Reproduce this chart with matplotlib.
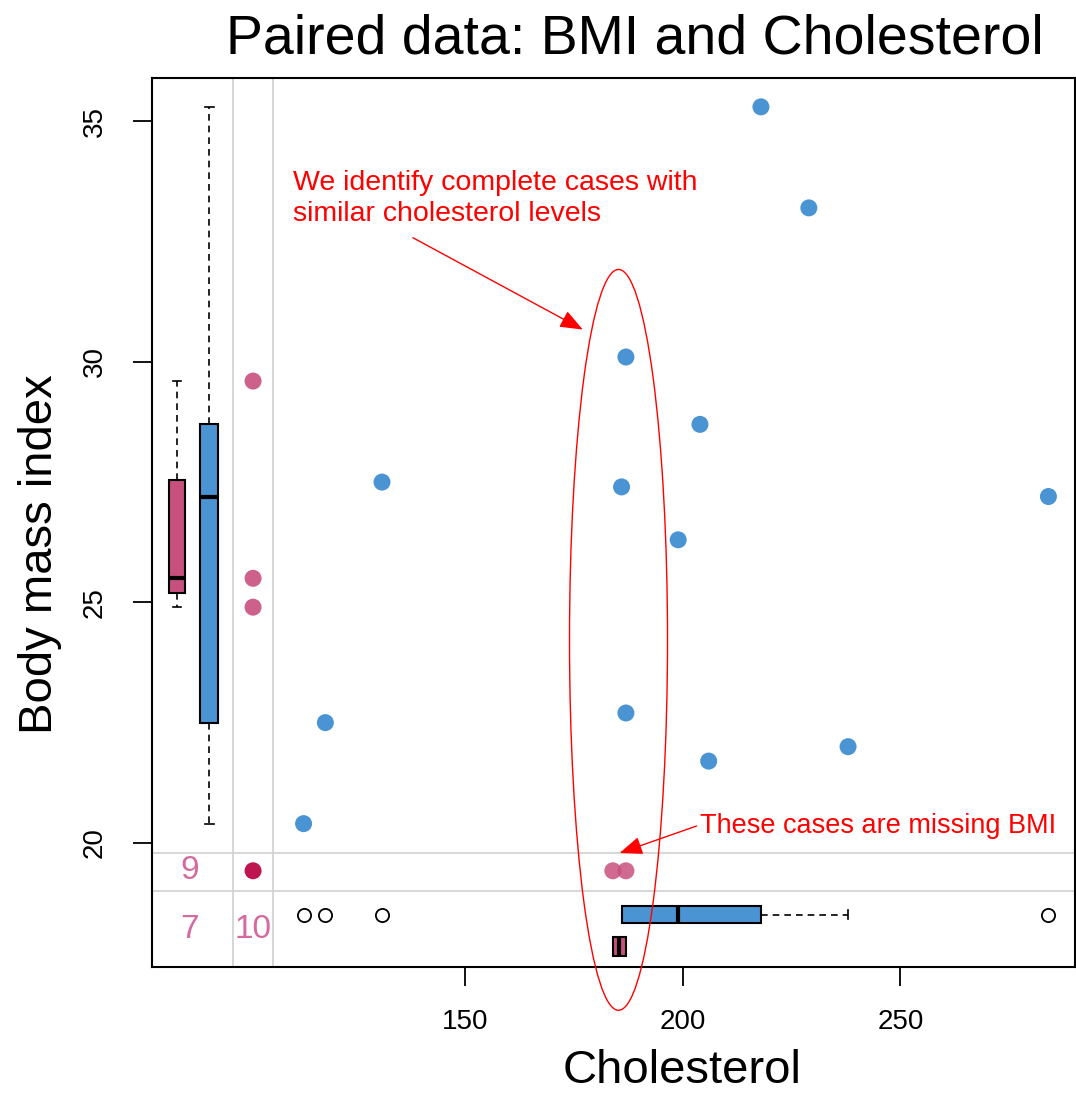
import numpy as np
import matplotlib
matplotlib.use("Agg")
import matplotlib.pyplot as plt
from matplotlib.patches import Ellipse

plt.rcParams['font.family'] = ['Liberation Sans', 'DejaVu Sans']

# nhanes: bmi and chl, NaN = missing
bmi = [np.nan, 22.7, np.nan, np.nan, 20.4, np.nan, 22.5, 30.1, 22.0, np.nan,
       np.nan, np.nan, 21.7, 28.7, 29.6, np.nan, 27.2, 26.3, 35.3, 25.5,
       np.nan, 33.2, 27.5, 24.9, 27.4]
chl = [np.nan, 187, 187, np.nan, 113, 184, 118, 187, 238, np.nan,
       np.nan, np.nan, 206, 204, np.nan, np.nan, 284, 199, 218, np.nan,
       np.nan, 229, 131, np.nan, 186]

bmi = np.array(bmi, dtype=float)
chl = np.array(chl, dtype=float)
mb = np.isnan(bmi)
mc = np.isnan(chl)
both = ~mb & ~mc

blue = "#4A94D4"
pink = "#C8507E"
dark = "#BE1450"
numcol = "#D66A9E"

# layout (data units of the extended axes)
xlim = (78.2, 290.1)
ylim = (17.42, 35.9)
x_vline = [96.8, 106.0]
y_hline = [19.79, 19.0]
x_miss = 101.4      # column for points missing chl
y_miss = 19.42      # row for points missing bmi
x_box = [83.9, 91.3]
y_box = [17.84, 18.51]


def fivenum(v):
    v = np.sort(v)
    n = len(v)
    n4 = np.floor((n + 3) / 2) / 2
    d = np.array([1, n4, (n + 1) / 2, n + 1 - n4, n]) - 1
    return 0.5 * (v[np.floor(d).astype(int)] + v[np.ceil(d).astype(int)])


def rstats(v):
    f = fivenum(v)
    iqr = f[3] - f[1]
    lo = v[v >= f[1] - 1.5 * iqr].min()
    hi = v[v <= f[3] + 1.5 * iqr].max()
    fl = v[(v < lo) | (v > hi)]
    return dict(med=f[2], q1=f[1], q3=f[3], whislo=lo, whishi=hi, fliers=fl)


fig = plt.figure(figsize=(10.76, 10.96), dpi=100)
ax = fig.add_axes([152 / 1076, 129 / 1096, 923 / 1076, 889 / 1096])
ax.set_xlim(*xlim)
ax.set_ylim(*ylim)

for xv in x_vline:
    ax.axvline(xv, color="#D3D3D3", lw=1.3, zorder=0)
for yv in y_hline:
    ax.axhline(yv, color="#D3D3D3", lw=1.3, zorder=0)

# complete cases
ax.scatter(chl[both], bmi[both], s=150, color=blue, edgecolors="none", zorder=3)
# bmi observed, chl missing
ax.scatter(np.full((~mb & mc).sum(), x_miss), bmi[~mb & mc], s=150,
           color=pink, alpha=0.9, edgecolors="none", zorder=3)
# chl observed, bmi missing
ax.scatter(chl[mb & ~mc], np.full((mb & ~mc).sum(), y_miss), s=150,
           color=pink, alpha=0.85, edgecolors="none", zorder=3)
# both missing
ax.scatter([x_miss], [y_miss], s=150, color=dark, edgecolors="none", zorder=3)

boxkw = dict(patch_artist=True, showfliers=True,
             medianprops=dict(color="black", lw=3),
             whiskerprops=dict(color="black", lw=1.2, linestyle=(0, (4, 3))),
             capprops=dict(color="black", lw=1.2),
             flierprops=dict(marker="o", mfc="none", mec="black", ms=9.5, mew=1.3))

# left margin: bmi by chl missing / observed
b1 = ax.bxp([rstats(bmi[~mb & mc]), rstats(bmi[both])], positions=x_box,
            widths=[3.7, 4.1], manage_ticks=False, **boxkw)
for p, c in zip(b1["boxes"], [pink, blue]):
    p.set_facecolor(c)
    p.set_edgecolor("black")
    p.set_linewidth(1.5)

# bottom margin: chl by bmi missing / observed
b2 = ax.bxp([rstats(chl[mb & ~mc]), rstats(chl[both])], positions=y_box,
            widths=[0.4, 0.35], orientation="horizontal", manage_ticks=False, **boxkw)
for p, c in zip(b2["boxes"], [pink, blue]):
    p.set_facecolor(c)
    p.set_edgecolor("black")
    p.set_linewidth(1.5)

# missing counts
ax.text(86.9, y_miss, str(mb.sum()), color=numcol, fontsize=24, ha="center", va="center")
ax.text(86.9, 18.19, str((mb & mc).sum()), color=numcol, fontsize=24, ha="center", va="center")
ax.text(x_miss, 18.19, str(mc.sum()), color=numcol, fontsize=24, ha="center", va="center")

ax.set_xticks([150, 200, 250])
ax.set_yticks([20, 25, 30, 35])
ax.tick_params(axis="both", length=14, width=1.3, labelsize=20, direction="out")
ax.tick_params(axis="x", pad=16)
ax.tick_params(axis="y", pad=18)
for lab in ax.get_yticklabels():
    lab.set_rotation(90)
    lab.set_va("center")
for s in ax.spines.values():
    s.set_linewidth(1.5)

# axis titles placed like the R marginplot (centred on the data region)
fig.text(682 / 1076, 1 - 1071 / 1096, "Cholesterol", fontsize=34,
         ha="center", va="center")
fig.text(40 / 1076, 1 - 554 / 1096, "Body mass index", fontsize=34,
         ha="center", va="center", rotation=90)
fig.text(635 / 1076, 1 - 40 / 1096, "Paired data: BMI and Cholesterol",
         fontsize=40, ha="center", va="center")

# annotations
ell = Ellipse((185.3, 24.22), 22.5, 15.4, fill=False, edgecolor="red", lw=1.0,
              clip_on=False, zorder=5)
ax.add_patch(ell)
ax.text(110.55, 33.39, "We identify complete cases with\nsimilar cholesterol levels",
        color="red", fontsize=20.5, ha="left", va="center", linespacing=1.25)
ax.annotate("", xy=(177.1, 30.67), xytext=(138.1, 32.58),
            arrowprops=dict(arrowstyle="-|>,head_length=1.4,head_width=0.55",
                            color="red", lw=1.0, shrinkA=0, shrinkB=0))
ax.text(203.9, 20.35, "These cases are missing BMI", color="red", fontsize=19.5,
        ha="left", va="center")
ax.annotate("", xy=(185.55, 19.79), xytext=(203.2, 20.35),
            arrowprops=dict(arrowstyle="-|>,head_length=1.4,head_width=0.55",
                            color="red", lw=1.0, shrinkA=0, shrinkB=0))

fig.savefig("out.png", dpi=100)
